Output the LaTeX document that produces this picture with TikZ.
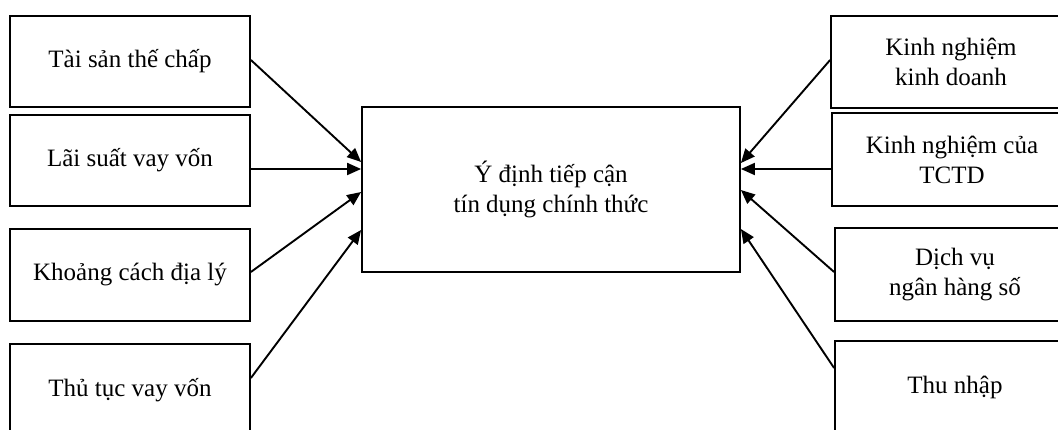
\documentclass[tikz,border=0pt]{standalone}
\usepackage{fontspec}
\setmainfont{Liberation Serif}
\usetikzlibrary{arrows.meta}
\tikzset{
  box/.style={draw, line width=1.8pt, minimum width=240pt, inner sep=0pt, align=center,
    font=\fontsize{25}{30}\selectfont},
  arr/.style={line width=1.9pt, -{Triangle[length=14pt,width=12pt]}}
}
\begin{document}
\begin{tikzpicture}[x=1pt,y=-1pt]
\useasboundingbox (0,0) rectangle (1058,430);
\clip (0,0) rectangle (1058,430);
% left boxes
\node[box, minimum height=91pt] (L1) at (130,61.5) {Tài sản thế chấp};
\node[box, minimum height=91pt] (L2) at (130,160.5) {Lãi suất vay vốn};
\node[box, minimum height=92pt] (L3) at (130,275) {Khoảng cách địa lý};
\node[box, minimum height=92pt] (L4) at (130,390) {Thủ tục vay vốn};
% center
\node[box, minimum width=378pt, minimum height=165pt] (C) at (551,189.5) {Ý định tiếp cận\\tín dụng chính thức};
% right boxes
\node[box, minimum height=92pt] (R1) at (951,62) {Kinh nghiệm\\kinh doanh};
\node[box, minimum height=93pt] (R2) at (952,159.5) {Kinh nghiệm của\\TCTD};
\node[box, minimum height=93pt] (R3) at (955,274.5) {Dịch vụ\\ngân hàng số};
\node[box, minimum height=92pt] (R4) at (955,387) {Thu nhập};
% arrows left
\draw[arr] ([yshift=1.5pt]L1.east) -- ([yshift=27.5pt]C.west);
\draw[arr] ([yshift=-8.5pt]L2.east) -- ([yshift=20.5pt]C.west);
\draw[arr] ([yshift=3pt]L3.east) -- ([yshift=-2.5pt]C.west);
\draw[arr] ([yshift=12pt]L4.east) -- ([yshift=-40.5pt]C.west);
% arrows right
\draw[arr] ([yshift=2pt]R1.west) -- ([yshift=26.5pt]C.east);
\draw[arr] ([yshift=-9.5pt]R2.west) -- ([yshift=20.5pt]C.east);
\draw[arr] ([yshift=2.5pt]R3.west) -- ([yshift=-0.5pt]C.east);
\draw[arr] ([yshift=19pt]R4.west) -- ([yshift=-39.5pt]C.east);
\end{tikzpicture}
\end{document}
